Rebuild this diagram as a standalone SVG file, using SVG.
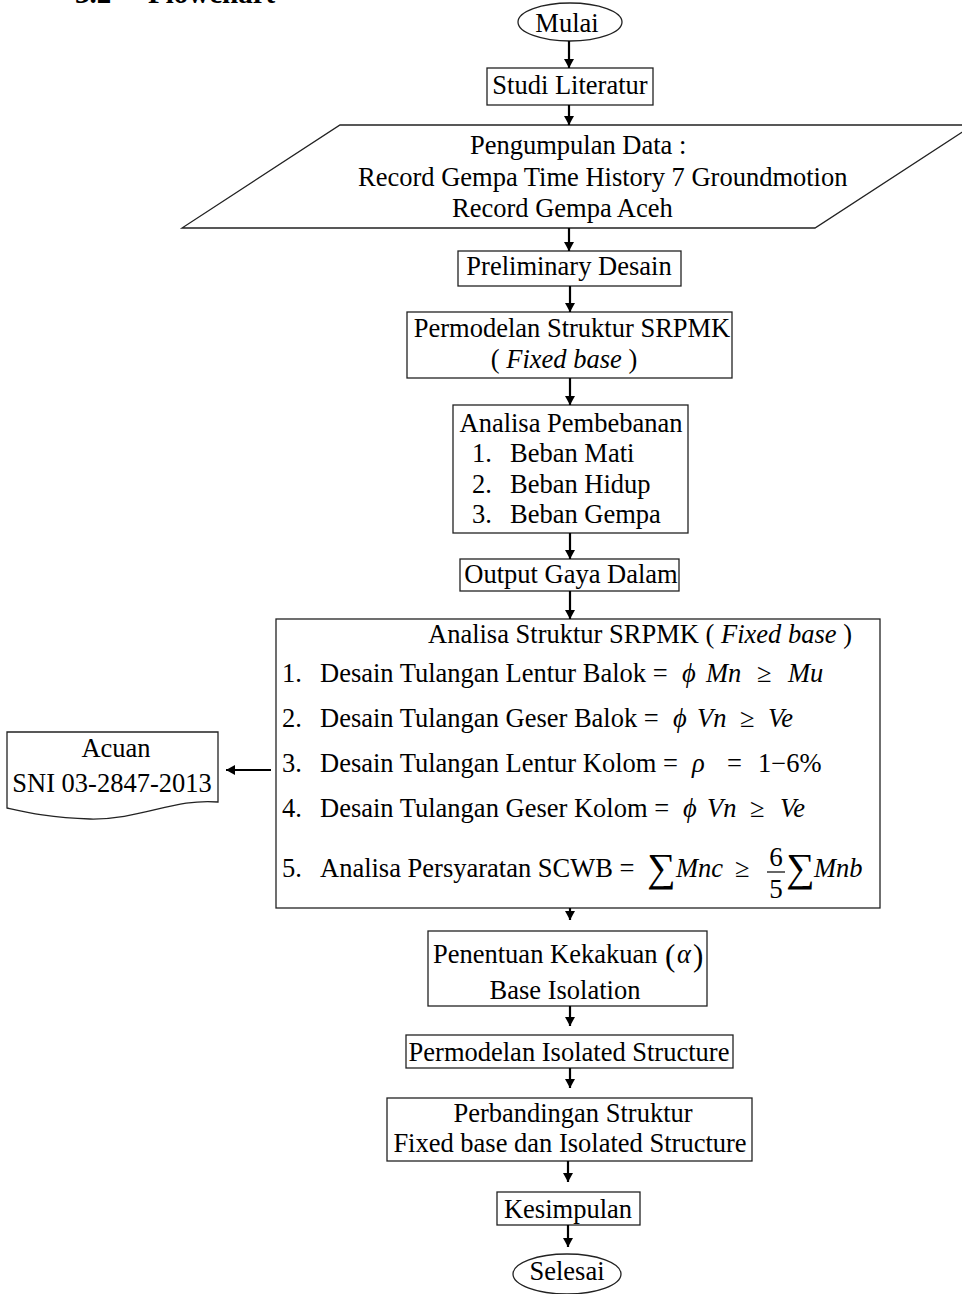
<svg xmlns="http://www.w3.org/2000/svg" width="962" height="1294" viewBox="0 0 962 1294">
<defs>
<style>
text{font-family:"Liberation Serif","Times New Roman",serif;font-size:26.5px;fill:#000}
.c{text-anchor:middle}
.i{font-style:italic}
.box{fill:#fff;stroke:#222;stroke-width:1.3}
.conn line{stroke:#000;stroke-width:2.2}
.h{font-weight:bold;font-size:29px}
.sum{font-size:40px}
.frac{font-size:27px;text-anchor:middle}
</style>
<marker id="ah" viewBox="0 0 9 10" refX="9" refY="5" markerWidth="9" markerHeight="10" markerUnits="userSpaceOnUse" orient="auto">
<path d="M0,0 L9,5 L0,10 z" fill="#000"/>
</marker>
</defs>
<rect width="962" height="1294" fill="#fff"/>
<text class="h" x="75" y="3">3.2</text>
<text class="h" x="148" y="3">Flowchart</text>

<g id="mulai"><ellipse class="box" cx="570" cy="22" rx="52" ry="19"/><text class="c" x="567" y="32">Mulai</text></g>
<g id="studi"><rect class="box" x="487" y="68" width="166" height="37"/><text class="c" x="570" y="94">Studi Literatur</text></g>
<g id="data"><polygon class="box" points="340,125 973,125 815,228 182,228"/>
<text x="470" y="154">Pengumpulan Data :</text>
<text x="358" y="186">Record Gempa Time History 7 Groundmotion</text>
<text x="452" y="217">Record Gempa Aceh</text></g>
<g id="prelim"><rect class="box" x="458" y="251" width="223" height="35"/><text class="c" x="569" y="275">Preliminary Desain</text></g>
<g id="permodelan"><rect class="box" x="407" y="312" width="325" height="66"/><text class="c" x="572" y="337">Permodelan Struktur SRPMK</text><text class="c" x="564" y="368">( <tspan class="i">Fixed base</tspan> )</text></g>
<g id="pembebanan"><rect class="box" x="453" y="405" width="235" height="128"/>
<text class="c" x="571" y="432">Analisa Pembebanan</text>
<text x="472" y="462">1.</text><text x="510" y="462">Beban Mati</text>
<text x="472" y="493">2.</text><text x="510" y="493">Beban Hidup</text>
<text x="472" y="523">3.</text><text x="510" y="523">Beban Gempa</text></g>
<g id="output"><rect class="box" x="460" y="559" width="219" height="32"/><text class="c" x="571" y="583">Output Gaya Dalam</text></g>
<g id="analisa"><rect class="box" x="276" y="619" width="604" height="289"/>
<text x="428" y="643">Analisa Struktur SRPMK ( <tspan class="i">Fixed base</tspan> )</text>
<text x="282" y="682">1.</text><text x="320" y="682">Desain Tulangan Lentur Balok =</text>
<text class="i" x="682" y="682">ϕ</text><text class="i" x="706" y="682">Mn</text><text x="757" y="682">≥</text><text class="i" x="788" y="682">Mu</text>
<text x="282" y="727">2.</text><text x="320" y="727">Desain Tulangan Geser Balok =</text>
<text class="i" x="673" y="727">ϕ</text><text class="i" x="697" y="727">Vn</text><text x="740" y="727">≥</text><text class="i" x="768" y="727">Ve</text>
<text x="282" y="772">3.</text><text x="320" y="772">Desain Tulangan Lentur Kolom =</text>
<text class="i" x="692" y="772">ρ</text><text x="727" y="772">=</text><text x="758" y="772">1−6%</text>
<text x="282" y="817">4.</text><text x="320" y="817">Desain Tulangan Geser Kolom =</text>
<text class="i" x="683" y="817">ϕ</text><text class="i" x="707" y="817">Vn</text><text x="750" y="817">≥</text><text class="i" x="780" y="817">Ve</text>
<text x="282" y="877">5.</text><text x="320" y="877">Analisa Persyaratan SCWB =</text>
<text class="sum" x="647" y="881">∑</text><text class="i" x="676" y="877">Mnc</text><text x="735" y="877">≥</text>
<text class="frac" x="776" y="866">6</text><line x1="767" y1="872" x2="785" y2="872" stroke="#000" stroke-width="1.2"/><text class="frac" x="776" y="898">5</text>
<text class="sum" x="786" y="881">∑</text><text class="i" x="814" y="877">Mnb</text></g>
<g id="acuan"><path class="box" d="M7,732 H218 V802 C175,798 140,820 90,819 C50,818 25,812 7,808 Z"/>
<text class="c" x="116" y="757">Acuan</text><text class="c" x="112" y="792">SNI 03-2847-2013</text></g>
<g id="penentuan"><rect class="box" x="428" y="931" width="279" height="75"/>
<text x="433" y="963">Penentuan Kekakuan</text><text x="665" y="966" style="font-size:31px">(</text><text class="i" x="677" y="963">α</text><text x="693" y="966" style="font-size:31px">)</text>
<text class="c" x="565" y="999">Base Isolation</text></g>
<g id="isolated"><rect class="box" x="406" y="1035" width="327" height="33"/><text class="c" x="569" y="1061">Permodelan Isolated Structure</text></g>
<g id="perbandingan"><rect class="box" x="387" y="1098" width="365" height="63"/><text class="c" x="573" y="1122">Perbandingan Struktur</text><text class="c" x="570" y="1152">Fixed base dan Isolated Structure</text></g>
<g id="kesimpulan"><rect class="box" x="497" y="1192" width="143" height="33"/><text class="c" x="568" y="1218">Kesimpulan</text></g>
<g id="selesai"><ellipse class="box" cx="567" cy="1274" rx="54" ry="20"/><text class="c" x="567" y="1280">Selesai</text></g>

<g class="conn" id="connectors">
<line x1="569" y1="41" x2="569" y2="68" marker-end="url(#ah)"/>
<line x1="569" y1="105" x2="569" y2="125" marker-end="url(#ah)"/>
<line x1="569" y1="228" x2="569" y2="251" marker-end="url(#ah)"/>
<line x1="570" y1="286" x2="570" y2="312" marker-end="url(#ah)"/>
<line x1="570" y1="378" x2="570" y2="405" marker-end="url(#ah)"/>
<line x1="570" y1="533" x2="570" y2="559" marker-end="url(#ah)"/>
<line x1="570" y1="591" x2="570" y2="619" marker-end="url(#ah)"/>
<line x1="570" y1="908" x2="570" y2="920" marker-end="url(#ah)"/>
<line x1="570" y1="1006" x2="570" y2="1026" marker-end="url(#ah)"/>
<line x1="570" y1="1068" x2="570" y2="1088" marker-end="url(#ah)"/>
<line x1="568" y1="1161" x2="568" y2="1182" marker-end="url(#ah)"/>
<line x1="568" y1="1225" x2="568" y2="1247" marker-end="url(#ah)"/>
<line x1="271" y1="770" x2="226" y2="770" marker-end="url(#ah)"/>
</g>
</svg>
